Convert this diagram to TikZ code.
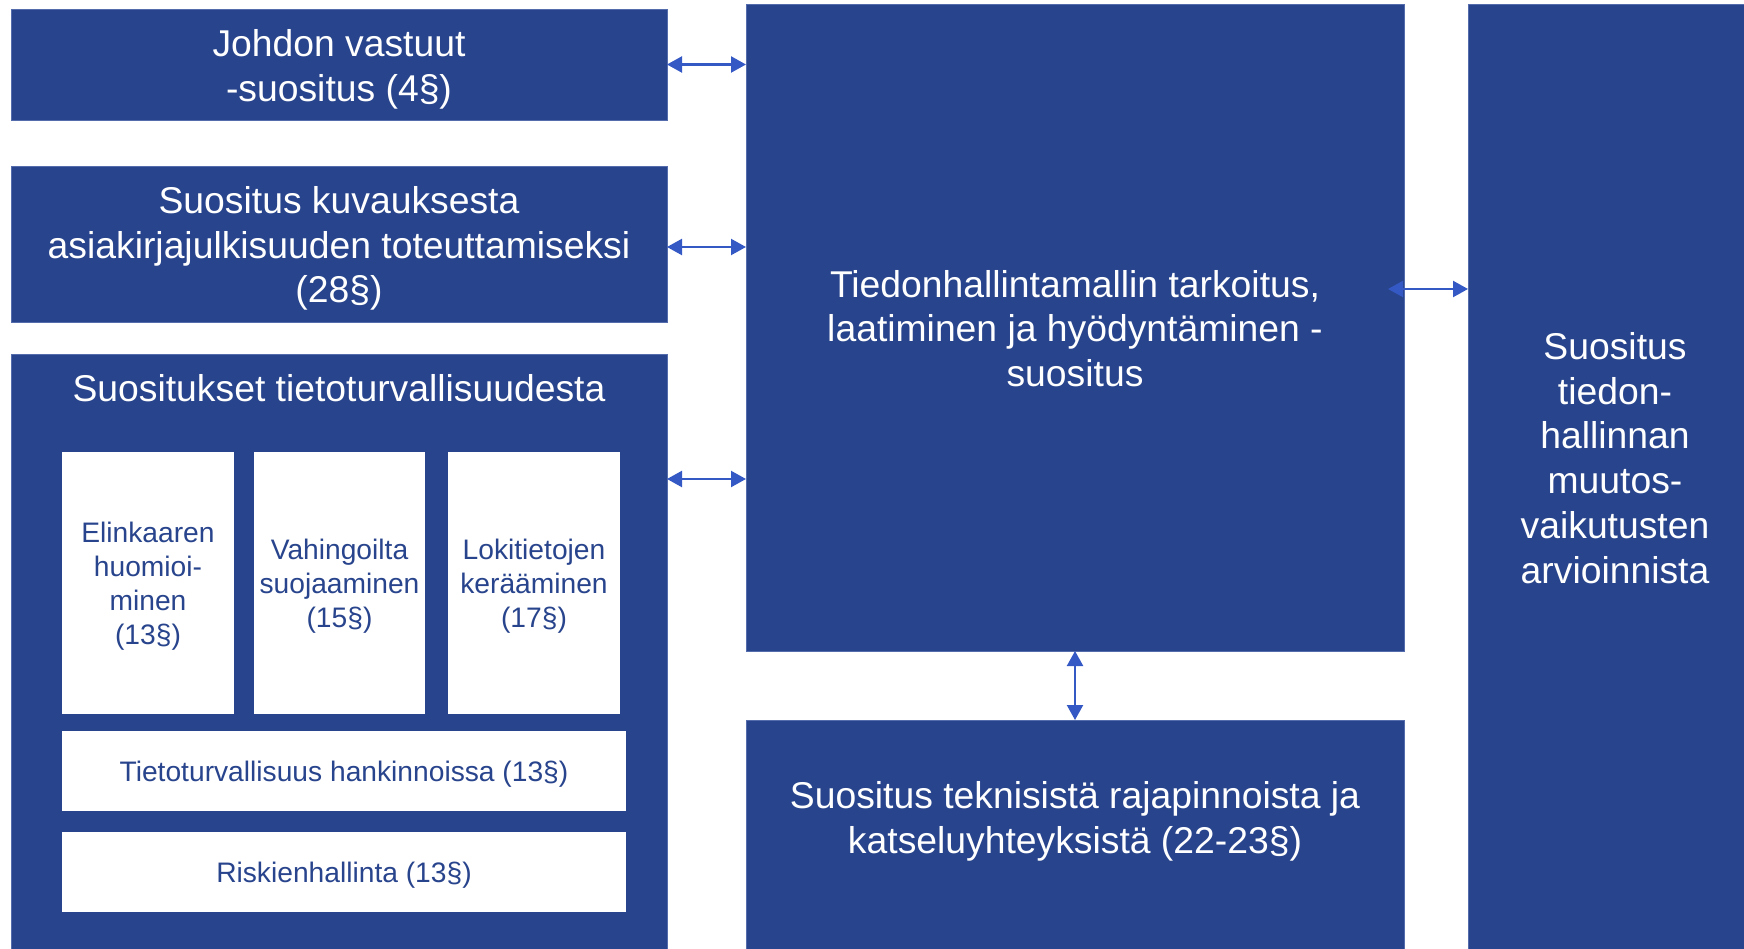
\documentclass[tikz,border=0pt]{standalone}
\usepackage{fontspec}
\setmainfont{Liberation Sans}
\usetikzlibrary{arrows.meta}
\definecolor{navy}{RGB}{40,68,140}
\definecolor{edgeblue}{RGB}{84,108,172}
\definecolor{arrowblue}{RGB}{52,88,196}
\tikzset{
  darkbox/.style={fill=navy, draw=edgeblue, line width=0.8pt, inner sep=0pt, outer sep=0pt},
  whitebox/.style={fill=white, draw=none, inner sep=0pt, outer sep=0pt},
  bigtext/.style={text=white, font=\fontsize{37.3}{44.8}\selectfont, align=center, inner sep=0pt, outer sep=0pt},
  smalltext/.style={text=navy, font=\fontsize{28.2}{34.2}\selectfont, align=center, inner sep=0pt, outer sep=0pt},
  link/.style={draw=arrowblue, line width=2.2pt,
    {Triangle[length=15pt,width=16pt]}-{Triangle[length=15pt,width=16pt]}},
}
\begin{document}
\begin{tikzpicture}[x=1pt,y=-1pt]
\useasboundingbox (0,0) rectangle (1744,949);

% left column
\node[darkbox, minimum width=656pt, minimum height=111pt] (johdon) at (339,64.5) {};
\node[bigtext] (johdont) at ([yshift=-4.5pt]johdon.center) {Johdon vastuut\\-suositus (4§)};
\node[darkbox, minimum width=656pt, minimum height=156pt] (kuv) at (339,244) {};
\node[bigtext] (kuvt) at ([yshift=-4.5pt]kuv.center)
  {Suositus kuvauksesta\\asiakirjajulkisuuden toteuttamiseksi\\(28§)};
\node[darkbox, minimum width=656pt, minimum height=606pt] (tieto) at (339,657) {};
\node[bigtext] (tietotitle) at (339,388) {Suositukset tietoturvallisuudesta};

\node[whitebox, minimum width=172pt, minimum height=262pt] (e1) at (148,583) {};
\node[smalltext] (e1t) at ([yshift=-3.3pt]e1.center) {Elinkaaren\\huomioi-\\minen\\(13§)};
\node[whitebox, minimum width=171pt, minimum height=262pt] (e2) at (339.5,583) {};
\node[smalltext] (e2t) at ([yshift=-3.3pt]e2.center) {Vahingoilta\\suojaaminen\\(15§)};
\node[whitebox, minimum width=172pt, minimum height=262pt] (e3) at (534,583) {};
\node[smalltext] (e3t) at ([yshift=-3.3pt]e3.center) {Lokitietojen\\kerääminen\\(17§)};
\node[whitebox, minimum width=564pt, minimum height=80pt] (hank) at (344,771) {};
\node[smalltext] (hankt) at ([yshift=-3.3pt]hank.center) {Tietoturvallisuus hankinnoissa (13§)};
\node[whitebox, minimum width=564pt, minimum height=80pt] (risk) at (344,872) {};
\node[smalltext] (riskt) at ([yshift=-3.3pt]risk.center) {Riskienhallinta (13§)};

% centre column
\node[darkbox, minimum width=658pt, minimum height=647pt] (center) at (1075,327.5) {};
\node[bigtext] (centert) at ([yshift=-1pt]center.center)
  {Tiedonhallintamallin tarkoitus,\\laatiminen ja hyödyntäminen -\\suositus};
\node[darkbox, minimum width=658pt, minimum height=240pt] (tech) at (1075,840) {};
\node[bigtext] (techtext) at (1075,821.5)
  {Suositus teknisistä rajapinnoista ja\\katseluyhteyksistä (22-23§)};

% right column
\node[darkbox, minimum width=292pt, minimum height=956pt] (right) at (1614,482) {};
\node[bigtext] (righttext) at (1615,458)
  {Suositus\\tiedon-\\hallinnan\\muutos-\\vaikutusten\\arvioinnista};

% connectors
\draw[link] (johdon.east) -- (johdon.east -| center.west);
\draw[link] (kuv.east |- 0,247) -- (center.west |- 0,247);
\draw[link] (tieto.east |- 0,479) -- (center.west |- 0,479);
\coordinate (rs) at ([xshift=-16pt]center.east);
\draw[link] (rs |- 0,289) -- (right.west |- 0,289);
\draw[link] (center.south) -- (tech.north);
\end{tikzpicture}
\end{document}
